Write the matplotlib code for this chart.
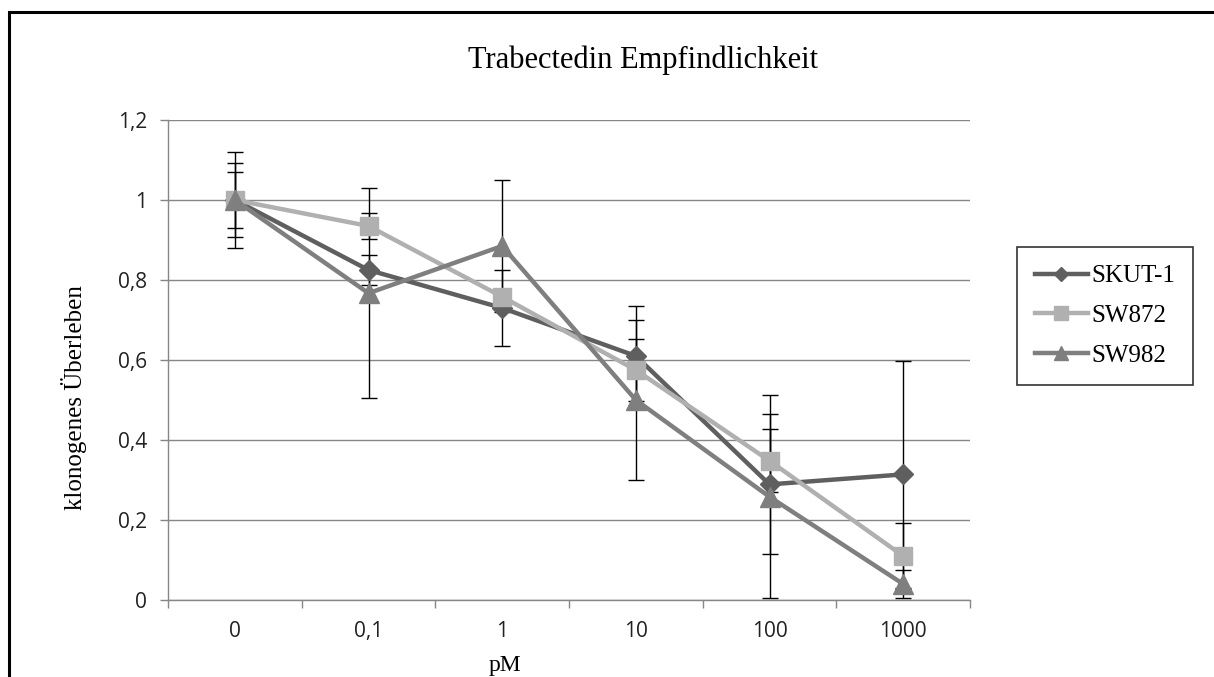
import matplotlib
matplotlib.use("Agg")
import matplotlib.pyplot as plt
from matplotlib.patches import Rectangle
import numpy as np

# Concentrations (pM) and clonogenic survival per cell line
concentrations = ["0", "0,1", "1", "10", "100", "1000"]
skut1 = [1.0, 0.825, 0.73, 0.61, 0.289, 0.314]
skut1_err = [0.07, 0.037, 0.095, 0.125, 0.175, 0.283]
sw872 = [1.0, 0.935, 0.758, 0.575, 0.348, 0.11]
sw872_err = [0.092, 0.032, 0.02, 0.077, 0.079, 0.083]
sw982 = [1.0, 0.767, 0.885, 0.5, 0.258, 0.04]
sw982_err = [0.12, 0.262, 0.165, 0.2, 0.254, 0.035]

series = [
    ("SKUT-1", skut1, skut1_err, "#5f5f5f", "D", 10),
    ("SW872", sw872, sw872_err, "#b0b0b0", "s", 13),
    ("SW982", sw982, sw982_err, "#7f7f7f", "^", 14),
]

W, H, DPI = 1214, 677, 100
fig = plt.figure(figsize=(W / DPI, H / DPI), dpi=DPI)
fig.patch.set_facecolor("white")

# Outer chart frame (left and top edges visible)
fig.add_artist(Rectangle((9 / W, -0.1), 1.2, 1 - 12 / H + 0.1,
                         transform=fig.transFigure, fill=False,
                         edgecolor="black", linewidth=2.2))

ax = fig.add_axes([168 / W, 1 - 600 / H, (970 - 168) / W, (600 - 120) / H])
x = np.arange(len(concentrations))

for name, vals, errs, color, marker, ms in series:
    ax.errorbar(x, vals, yerr=errs, fmt="none", ecolor="black",
                elinewidth=1.0, capsize=6, capthick=1.0, zorder=3)
for name, vals, errs, color, marker, ms in series:
    ax.plot(x, vals, color=color, linewidth=3.2, marker=marker,
            markersize=ms, markeredgecolor=color, label=name, zorder=4)

ax.set_xlim(-0.5, len(concentrations) - 0.5)
ax.set_ylim(0, 1.2)
ax.set_yticks(np.arange(0, 1.21, 0.2))
ax.set_yticklabels(["0", "0,2", "0,4", "0,6", "0,8", "1", "1,2"],
                   fontfamily="Open Sans", fontsize=15, color="#222222")
ax.set_xticks(x)
ax.set_xticklabels(concentrations, fontfamily="Open Sans", fontsize=15,
                   color="#222222")
ax.tick_params(axis="x", which="major", length=0, pad=15)
ax.set_xticks(np.arange(-0.5, len(concentrations), 1), minor=True)
ax.tick_params(axis="x", which="minor", length=6, color="#868686", width=1)
ax.tick_params(axis="y", length=6, color="#868686", width=1, pad=9)

ax.grid(axis="y", color="#868686", linewidth=1)
ax.set_axisbelow(True)
for side in ("top", "right"):
    ax.spines[side].set_visible(False)
for side in ("left", "bottom"):
    ax.spines[side].set_color("#868686")
    ax.spines[side].set_linewidth(1)

fig.text(643 / W, 1 - 60 / H, "Trabectedin Empfindlichkeit",
         fontfamily="Liberation Serif", fontsize=22, ha="center", va="center")
fig.text(74 / W, 1 - 398 / H, "klonogenes Überleben",
         fontfamily="Liberation Serif", fontsize=18, rotation=90,
         ha="center", va="center")
fig.text(505 / W, 1 - 665 / H, "pM", fontfamily="Liberation Serif",
         fontsize=17, ha="center", va="center")

leg = ax.legend(loc="upper left", bbox_to_anchor=(1017 / W, 1 - 247 / H),
                bbox_transform=fig.transFigure,
                prop={"family": "Liberation Serif", "size": 18},
                frameon=True, fancybox=False, edgecolor="black",
                borderpad=0.72, borderaxespad=0, labelspacing=0.68,
                handlelength=2.1, handletextpad=0.15, markerscale=0.75)
leg.get_frame().set_linewidth(1.2)

fig.savefig("out.png", dpi=DPI, facecolor="white")
